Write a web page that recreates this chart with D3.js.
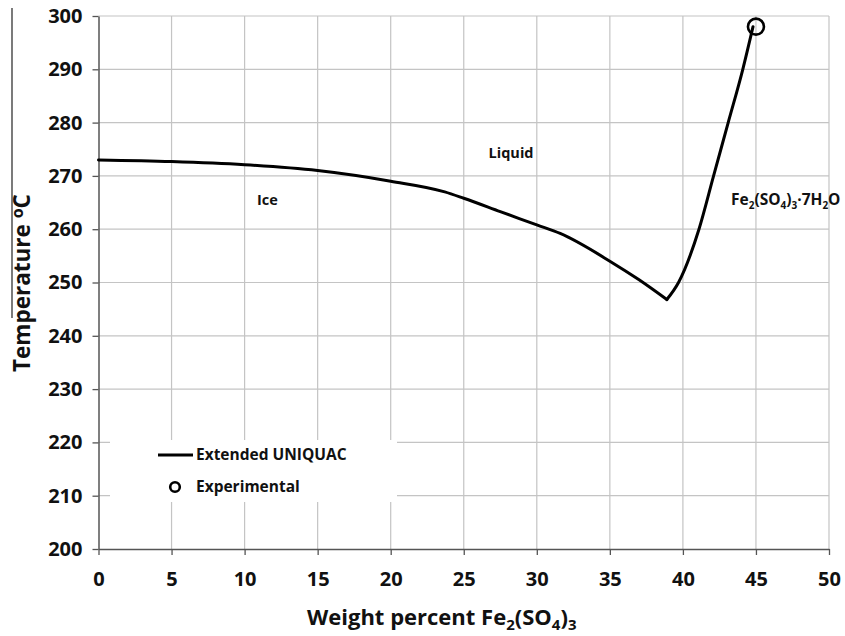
<!DOCTYPE html>
<html>
<head>
<meta charset="utf-8">
<script src="https://cdn.jsdelivr.net/npm/d3@7"></script>
<style>
  html, body { margin: 0; padding: 0; background: #fff; }
  svg { display: block; font-family: "Open Sans", "Liberation Sans", sans-serif; font-weight: bold; }
</style>
</head>
<body>
<svg id="chart" width="845" height="636"></svg>
<script>
// ---- data ----
const xTicks = [0, 5, 10, 15, 20, 25, 30, 35, 40, 45, 50];
const yTicks = [200, 210, 220, 230, 240, 250, 260, 270, 280, 290, 300];
// Extended UNIQUAC: ice branch (weight % Fe2(SO4)3, temperature)
const iceX = [0, 5, 10, 15, 20, 23.7, 25, 27.5, 30, 31.6, 35, 37, 38.9];
const iceT = [273.0, 272.7, 272.1, 271.0, 269.0, 267.0, 265.8, 263.3, 260.8, 259.2, 254.0, 250.5, 246.8];
// Extended UNIQUAC: Fe2(SO4)3·7H2O branch
const saltX = [38.9, 39.7, 41.1, 42.1, 43.1, 44.1, 44.8];
const saltT = [246.8, 250.0, 260.0, 270.0, 280.0, 290.0, 298.0];
// Experimental
const expX = [45];
const expT = [298];
const regionLabels = ["Liquid", "Ice"];
const regionX = [26.7, 10.85];
const regionT = [273.4, 264.5];

const svg = d3.select("#chart");
const x = d3.scaleLinear().domain([0, 50]).range([98.5, 829]);
const y = d3.scaleLinear().domain([200, 300]).range([549, 16]);

// gridlines
const grid = svg.append("g");
grid.selectAll("line.v").data(xTicks.slice(1)).join("line")
  .attr("x1", d => x(d)).attr("x2", d => x(d))
  .attr("y1", y(200)).attr("y2", y(300))
  .attr("stroke", "#c4c4c4").attr("stroke-width", 1.2);
grid.selectAll("line.h").data(yTicks.slice(1)).join("line")
  .attr("x1", x(0)).attr("x2", x(50))
  .attr("y1", d => y(d)).attr("y2", d => y(d))
  .attr("stroke", "#c4c4c4").attr("stroke-width", 1.2);

// axes
const xAxis = svg.append("g").attr("transform", `translate(0,${y(200)})`)
  .call(d3.axisBottom(x).tickValues(xTicks).tickSize(6).tickSizeOuter(0).tickPadding(24));
const yAxis = svg.append("g").attr("transform", `translate(${x(0)},0)`)
  .call(d3.axisLeft(y).tickValues(yTicks).tickSize(6).tickSizeOuter(0).tickPadding(10));
[xAxis, yAxis].forEach(a => {
  a.attr("font-size", null).attr("font-family", null);
  a.select(".domain").attr("stroke", "#555").attr("stroke-width", 1.5);
  a.selectAll(".tick line").attr("stroke", "#555").attr("stroke-width", 1.3);
  a.selectAll("text").attr("fill", "#111").attr("font-size", 20)
    .attr("font-family", "'Open Sans', sans-serif").attr("font-weight", "bold");
});
xAxis.selectAll("text").attr("dy", "0.35em");

// legend background (hides gridlines)
svg.append("rect").attr("x", 110).attr("y", 440).attr("width", 287).attr("height", 62).attr("fill", "#fff");

// curves
const line = d3.line().x(d => x(d[0])).y(d => y(d[1])).curve(d3.curveMonotoneX);
const ice = iceX.map((v, i) => [v, iceT[i]]);
const salt = saltX.map((v, i) => [v, saltT[i]]);
[ice, salt].forEach(s => {
  svg.append("path").datum(s).attr("d", line)
    .attr("fill", "none").attr("stroke", "#000").attr("stroke-width", 3)
    .attr("stroke-linejoin", "round").attr("stroke-linecap", "round");
});

// experimental point
svg.selectAll("circle.exp").data(expX.map((v, i) => [v, expT[i]])).join("circle")
  .attr("cx", d => x(d[0])).attr("cy", d => y(d[1])).attr("r", 8)
  .attr("fill", "none").attr("stroke", "#000").attr("stroke-width", 2.6);

// region labels
svg.selectAll("text.region").data(regionLabels).join("text")
  .attr("x", (d, i) => x(regionX[i])).attr("y", (d, i) => y(regionT[i]))
  .attr("font-size", 14.5).attr("fill", "#111").text(d => d);

const fe = svg.append("text").attr("x", 731).attr("y", 205).attr("font-size", 15.5).attr("fill", "#111");
fe.append("tspan").text("Fe");
fe.append("tspan").attr("font-size", 10).attr("dy", 4).text("2");
fe.append("tspan").attr("dy", -4).text("(SO");
fe.append("tspan").attr("font-size", 10).attr("dy", 4).text("4");
fe.append("tspan").attr("dy", -4).text(")");
fe.append("tspan").attr("font-size", 10).attr("dy", 4).text("3");
fe.append("tspan").attr("dy", -4).text("·7H");
fe.append("tspan").attr("font-size", 10).attr("dy", 4).text("2");
fe.append("tspan").attr("dy", -4).text("O");

// legend
svg.append("line").attr("x1", 158).attr("x2", 193).attr("y1", 455).attr("y2", 455)
  .attr("stroke", "#000").attr("stroke-width", 3);
svg.append("text").attr("x", 196).attr("y", 460).attr("font-size", 15.5).attr("fill", "#111").text("Extended UNIQUAC");
svg.append("circle").attr("cx", 175).attr("cy", 487).attr("r", 4.8)
  .attr("fill", "none").attr("stroke", "#000").attr("stroke-width", 2.6);
svg.append("text").attr("x", 196).attr("y", 492).attr("font-size", 15.5).attr("fill", "#111").text("Experimental");

// axis titles
const xt = svg.append("text").attr("x", 307).attr("y", 625).attr("font-size", 22).attr("fill", "#111");
xt.append("tspan").text("Weight percent Fe");
xt.append("tspan").attr("font-size", 15).attr("dy", 5).text("2");
xt.append("tspan").attr("dy", -5).text("(SO");
xt.append("tspan").attr("font-size", 15).attr("dy", 5).text("4");
xt.append("tspan").attr("dy", -5).text(")");
xt.append("tspan").attr("font-size", 15).attr("dy", 5).text("3");

svg.append("line").attr("x1", 12).attr("x2", 12).attr("y1", 8).attr("y2", 318)
  .attr("stroke", "#222").attr("stroke-width", 1.2);
const yt = svg.append("text").attr("transform", "translate(30,283) rotate(-90)")
  .attr("text-anchor", "middle").attr("font-size", 22.5).attr("fill", "#111");
yt.append("tspan").text("Temperature ");
yt.append("tspan").attr("font-size", 16).attr("dy", -7).text("o");
yt.append("tspan").attr("dy", 7).text("C");
</script>
</body>
</html>
